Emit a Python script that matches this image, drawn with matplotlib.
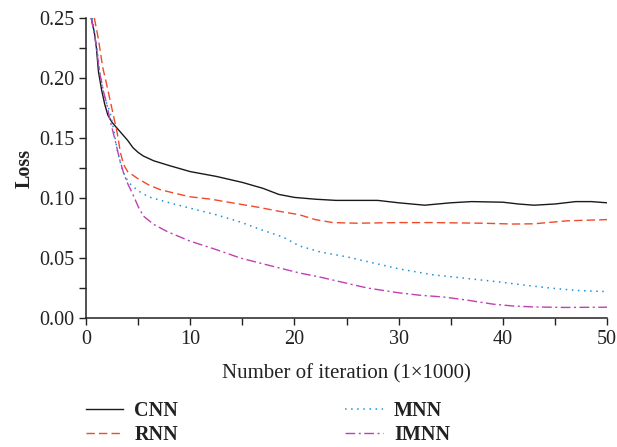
import matplotlib
matplotlib.use("Agg")
import matplotlib.pyplot as plt
from matplotlib.ticker import MultipleLocator

plt.rcParams['font.family'] = ['Liberation Serif', 'DejaVu Serif']

# --- Valores ---
x_cnn = [0.5, 0.8, 1.0, 1.2, 1.5, 1.8, 2.1, 2.5, 3.0, 3.5, 4.0, 4.5, 5.0, 5.5, 6.5, 8, 10, 12.5, 15, 17,
         18.5, 20, 22, 24, 28, 30, 32.5, 35, 37, 40, 41.5, 43, 45, 47, 48.5, 50]
y_cnn = [0.25, 0.238, 0.225, 0.205, 0.19, 0.178, 0.169, 0.163, 0.158, 0.153, 0.148, 0.142, 0.138, 0.135,
         0.131, 0.127, 0.122, 0.118, 0.113, 0.108, 0.103, 0.1005, 0.099, 0.098, 0.098, 0.096, 0.094, 0.096,
         0.097, 0.0965, 0.095, 0.094, 0.095, 0.097, 0.097, 0.096]

x_rnn = [0.8, 1.2, 1.6, 2.0, 2.3, 2.7, 3.0, 3.3, 3.6, 4.0, 5, 6, 7.1, 8.5, 10, 12, 14, 16.4, 18.5, 20.5,
         22, 23.7, 26, 30, 33.3, 38, 41, 43, 46.2, 50]
y_rnn = [0.25, 0.232, 0.209, 0.194, 0.182, 0.166, 0.154, 0.138, 0.128, 0.122, 0.116, 0.111, 0.107, 0.104,
         0.101, 0.099, 0.096, 0.0925, 0.089, 0.086, 0.082, 0.0795, 0.079, 0.0795, 0.0795, 0.079, 0.0783,
         0.0785, 0.081, 0.082]

x_mnn = [0.6, 1.0, 1.4, 1.8, 2.3, 2.7, 3.0, 3.4, 3.8, 4.2, 5, 6, 8, 10, 12.5, 14.8, 17, 18.9, 20.5, 22.5,
         25, 27, 30, 33.3, 36.5, 39.7, 42, 44.5, 47, 50]
y_mnn = [0.25, 0.228, 0.2, 0.183, 0.172, 0.155, 0.14, 0.126, 0.117, 0.112, 0.106, 0.101, 0.096, 0.0915,
         0.086, 0.080, 0.073, 0.0675, 0.06, 0.055, 0.051, 0.047, 0.041, 0.036, 0.033, 0.030, 0.0275, 0.025,
         0.023, 0.022]

x_imnn = [0.5, 0.9, 1.3, 1.7, 2.0, 2.3, 2.8, 3.2, 3.6, 4.0, 4.5, 5.0, 5.5, 6.5, 7.8, 10, 12.5, 14.8, 17.5,
          20.5, 22.5, 25, 27, 30, 32, 34.3, 36.5, 39.1, 41, 43, 46, 50]
y_imnn = [0.25, 0.232, 0.205, 0.188, 0.178, 0.165, 0.148, 0.133, 0.121, 0.112, 0.103, 0.093, 0.085, 0.078,
          0.072, 0.064, 0.057, 0.05, 0.044, 0.0375, 0.034, 0.029, 0.025, 0.021, 0.019, 0.0175, 0.015,
          0.0115, 0.010, 0.0092, 0.0088, 0.009]

# --- Gráfico ---
fig = plt.figure(figsize=(6.17, 4.47), dpi=100)
ax = fig.add_axes([86 / 617, 1 - 318 / 447, 521 / 617, 300 / 447])

ax.plot(x_cnn, y_cnn, color='#1a1a1a', lw=1.0, ls='-', label='CNN')
ax.plot(x_rnn, y_rnn, color='#f04a2a', lw=1.0, ls=(0, (6, 3)), label='RNN')
ax.plot(x_mnn, y_mnn, color='#2090d8', lw=1.1, ls=(0, (1, 3)), label='MNN')
ax.plot(x_imnn, y_imnn, color='#c040b0', lw=1.0, ls=(0, (7, 2.5, 1.5, 2.5)), label='IMNN')

ax.set_xlim(0, 50)
ax.set_ylim(0, 0.25)
ax.xaxis.set_major_locator(MultipleLocator(10))
ax.xaxis.set_minor_locator(MultipleLocator(5))
ax.yaxis.set_major_locator(MultipleLocator(0.05))
ax.yaxis.set_minor_locator(MultipleLocator(0.025))
ax.yaxis.set_major_formatter(plt.FormatStrFormatter('%.2f'))
ax.tick_params(which='both', direction='out', length=5, width=1, labelsize=14.5, colors='#222222')
ax.spines['top'].set_visible(False)
ax.spines['right'].set_visible(False)
for s in ['left', 'bottom']:
    ax.spines[s].set_linewidth(1.1)
    ax.spines[s].set_color('#222222')

ax.set_xlabel('Number of iteration (1×1000)', fontsize=15, color='#222222', labelpad=11)
ax.set_ylabel('Loss', fontsize=14.5, fontweight='bold', color='#222222', labelpad=3)

leg = fig.legend(loc='upper left', bbox_to_anchor=(68 / 617, 1 - 383 / 447), ncol=2,
                 frameon=False, prop={'weight': 'bold', 'size': 14.5},
                 columnspacing=8.3, handlelength=1.85, handletextpad=0.55, labelspacing=0.2)
for t in leg.get_texts():
    t.set_color('#222222')

fig.savefig('out.png', dpi=100)
